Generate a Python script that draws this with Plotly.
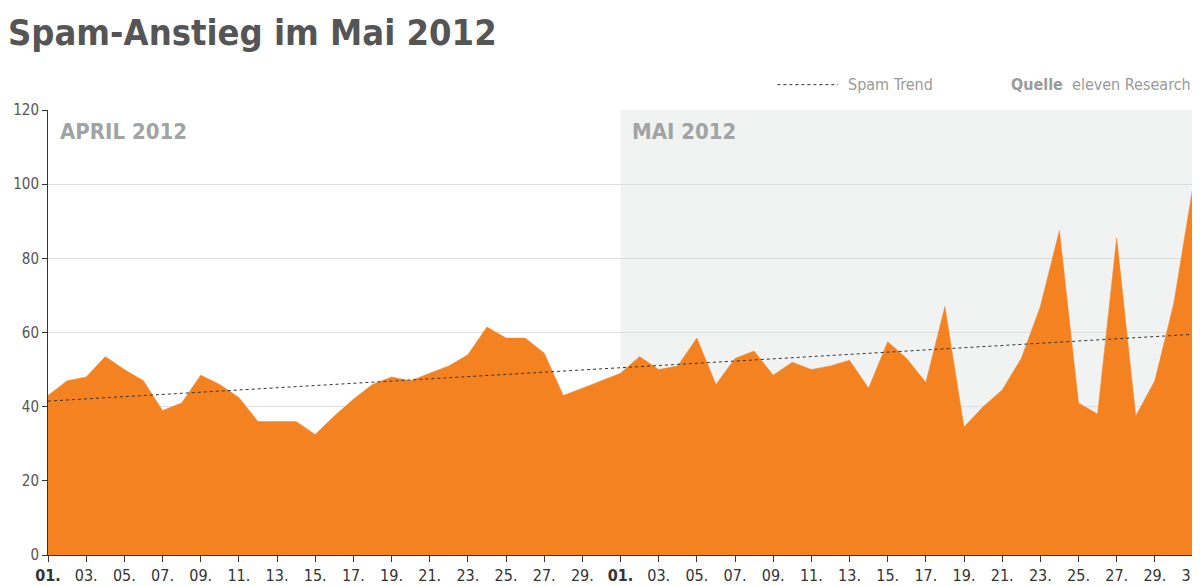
import numpy as np
import plotly.graph_objects as go

april_values = [43, 47, 48, 53.5, 50, 47, 39, 41, 48.5, 46, 42.5, 36, 36, 36, 32.5,
                37.5, 42, 46, 48, 47, 49, 51, 54, 61.5, 58.5, 58.5, 54.5, 43, 45, 47]
may_values = [49, 53.5, 50, 51, 58.5, 46, 53, 55, 48.5, 52, 50, 51, 52.5, 45, 57.5,
              53, 46.5, 67, 34.5, 40, 44.5, 53, 67, 87.5, 41, 38, 85.5, 37.5, 47, 68, 99.5]
trend_start = 41.5
trend_end = 59.5
y_ticks = [0, 20, 40, 60, 80, 100, 120]

values = april_values + may_values
x = list(range(len(values)))
day_labels = [f"{d:02d}." for d in range(1, 31)] + [f"{d:02d}." for d in range(1, 32)]
tickvals = [i for i in x if (i < 30 and i % 2 == 0) or (i >= 30 and (i - 30) % 2 == 0)]
ticktext = [("<b>" + day_labels[i] + "</b>") if day_labels[i] == "01." else day_labels[i] for i in tickvals]

grey = "#555555"
fig = go.Figure()
fig.add_shape(type="rect", xref="x", yref="paper", x0=30, x1=60, y0=0, y1=1,
              fillcolor="#f1f3f3", line_width=0, layer="below")
fig.add_trace(go.Scatter(x=x, y=values, mode="lines", fill="tozeroy",
                         fillcolor="#f58220", line=dict(color="#f58220", width=0.5),
                         showlegend=False))
fig.add_trace(go.Scatter(x=[0, 60], y=[trend_start, trend_end], mode="lines",
                         line=dict(color="#333333", width=1, dash="dot"), showlegend=False))

fig.add_annotation(x=0.5, y=118, xref="x", yref="y", text="<b>APRIL 2012</b>", showarrow=False,
                   xanchor="left", yanchor="top", font=dict(size=22, color="#a0a4a4"))
fig.add_annotation(x=30.5, y=118, xref="x", yref="y", text="<b>MAI 2012</b>", showarrow=False,
                   xanchor="left", yanchor="top", font=dict(size=22, color="#a0a4a4"))
fig.add_annotation(x=0, y=1.225, xref="paper", yref="paper", text="<b>Spam-Anstieg im Mai 2012</b>",
                   showarrow=False, xanchor="left", yanchor="top", font=dict(size=36, color=grey),
                   xshift=-42)
fig.add_annotation(x=1, y=1.057, xref="paper", yref="paper", text="<b>Quelle</b>  eleven Research",
                   showarrow=False, xanchor="right", yanchor="middle", font=dict(size=16, color="#9a9a9a"))
fig.add_annotation(x=0.775, y=1.057, xref="paper", yref="paper", text="Spam Trend",
                   showarrow=False, xanchor="right", yanchor="middle", font=dict(size=16, color="#9a9a9a"))
fig.add_shape(type="line", xref="paper", yref="paper", x0=0.637, x1=0.69, y0=1.057, y1=1.057,
              line=dict(color="#333333", width=1, dash="dot"))

fig.update_layout(
    width=1200, height=586,
    margin=dict(l=40, r=15, t=102, b=39),
    paper_bgcolor="white", plot_bgcolor="white",
    font=dict(family="DejaVu Sans Condensed, Liberation Sans Narrow, sans-serif", color=grey),
    xaxis=dict(range=[0, 60], tickvals=tickvals, ticktext=ticktext, ticks="outside",
               ticklen=6, tickcolor="#333", showgrid=False, showline=True, linecolor="#333",
               tickfont=dict(size=16, color="#333"), zeroline=False, automargin=False),
    yaxis=dict(range=[0, 120], tickvals=y_ticks, ticks="outside", ticklen=5, tickcolor="#333",
               showgrid=True, gridcolor="#dddddd", showline=True, linecolor="#333",
               tickfont=dict(size=15, color=grey), zeroline=False, layer="below traces",
               automargin=False),
)
fig.write_html("out.html")
